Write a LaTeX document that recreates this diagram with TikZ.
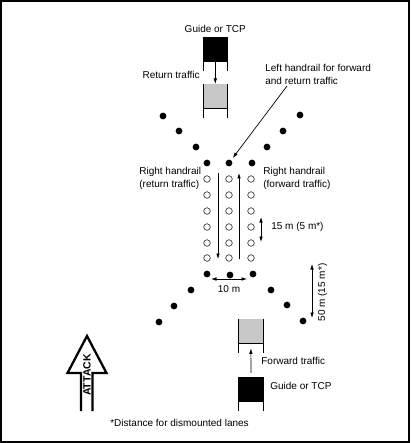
\documentclass[tikz,border=0pt]{standalone}
\usepackage{fontspec}
\setmainfont{Liberation Sans}
\usetikzlibrary{arrows.meta,positioning}

\begin{document}
\begin{tikzpicture}[x=1pt,y=-1pt,>={Latex[length=5.5pt,width=3.6pt]},line width=0.7pt,
  lbl/.style={inner sep=0pt,font=\fontsize{10}{13}\selectfont},
  guidebox/.style={fill=black,minimum width=24pt,minimum height=24pt,inner sep=0pt},
  lanebox/.style={fill=black!22,minimum width=24pt,minimum height=24pt,inner sep=0pt},
  post/.style={circle,fill=black,inner sep=0pt,minimum size=6.8pt},
  cone/.style={circle,draw,line width=0.5pt,inner sep=0pt,minimum size=6.6pt}]
\useasboundingbox (0,0) rectangle (410,443);
\draw[line width=2.4pt] (1.2,1.2) rectangle (408.8,441.8);

% guides and lane entries
\node (topguide) [guidebox] at (215.3,49.3) {};
\node (toplane) [lanebox] at (215.3,96.3) {};
\node (botlane) [lanebox] at (250.8,331) {};
\node (botguide) [guidebox] at (251,389.3) {};
\foreach \b in {topguide,toplane,botlane,botguide} {
  \draw (\b.north west) -- ++(0,34);
  \draw (\b.north east) -- ++(0,34);
  \draw (\b.south west) -- (\b.south east);
}
\node (topguidetxt) [lbl,above=4pt of topguide] {Guide or TCP};
\node (bottxt) [lbl,anchor=west] at (270,386) {Guide or TCP};
\node (rettxt) [lbl,anchor=east] at (200,75) {Return traffic};
\node (fwdtxt) [lbl,anchor=west] at (261,361) {Forward traffic};
\draw[->] (topguide) -- (toplane);
\draw[->,shorten <=4pt,shorten >=5pt] (botguide) -- (botlane);

% posts (black) and cones (open)
\foreach \n/\x/\y in {ul1/163/116,ul2/179/131,ul3/196/147,ur1/300/115,ur2/283/131,ur3/267/147,
  t1/207/163,t2/229/163,t3/252/163,b1/207/274,b2/230/275,b3/253/274,
  ll1/191/290,ll2/174/306,ll3/159/322,lr1/271/290,lr2/287/305,lr3/303/321}
  \node (\n) [post] at (\x,\y) {};
\foreach \c/\x in {l/207,m/229,r/251}
  \foreach \r/\y in {1/179,2/195,3/211,4/227,5/243,6/258}
    \node (\c\r) [cone] at (\x,\y) {};

% lane arrows
\coordinate (retin) at (218,173);
\coordinate (retout) at (218,259);
\coordinate (fwdin) at (239,259);
\coordinate (fwdout) at (239,173);
\draw[->] (retin) -- (retout);
\draw[->] (fwdin) -- (fwdout);

% handrail labels
\node (lefthr) [lbl,align=left,anchor=west] at (265,74.5) {Left handrail for forward\\and return traffic};
\coordinate (ldr) at (287,86);
\draw[->,shorten >=2.5pt] (ldr) -- (t2);
\node (rhret) [lbl,align=left,anchor=west] at (139,178) {Right handrail\\(return traffic)};
\node (rhfwd) [lbl,align=left,anchor=west] at (263,178) {Right handrail\\(forward traffic)};

% distances
\coordinate (d15a) at (261,217);
\coordinate (d15b) at (261,242);
\draw[<->] (d15a) -- (d15b);
\node (d15txt) [lbl,anchor=west] at (271,227) {15 m (5 m*)};
\coordinate (d10a) at (211,279);
\coordinate (d10b) at (247,279);
\draw[<->] (d10a) -- (d10b);
\node (d10txt) [lbl] at (229,289) {10 m};
\coordinate (d50a) at (312,264);
\coordinate (d50b) at (312,318);
\draw[<->] (d50a) -- (d50b);
\node (d50txt) [lbl,rotate=90] at (322.5,292.5) {50 m (15 m*)};

% attack arrow
\draw[line width=2.3pt,miter limit=20] (81,411) -- (81,373) -- (67.5,373) -- (87,336)
  -- (106.5,373) -- (92.5,373) -- (92.5,411);
\node (attack) [inner sep=0pt,rotate=90,font=\fontsize{10.5}{12}\bfseries] at (87,375) {ATTACK};

\node (note) [lbl,anchor=west] at (110,423) {*Distance for dismounted lanes};
\end{tikzpicture}
\end{document}
